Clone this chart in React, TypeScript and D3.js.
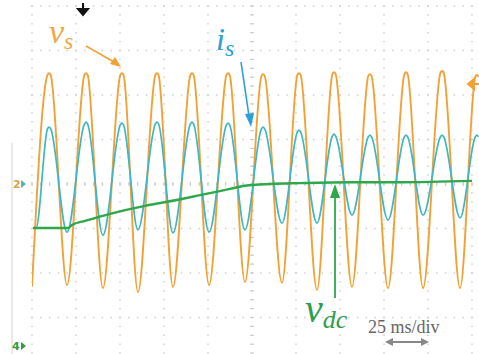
import React from "react";
import * as d3 from "d3";

// Scope settings: 10 x 8 divisions, 25 ms/div
const timeDivs = 10;
const voltDivs = 8;
const msPerDiv = 25;

// v_s: times of the peaks / troughs (ms) and their levels (div)
const vsPeakTimes = [9.7, 30.7, 51.1, 71.0, 90.9, 111.4, 131.3, 151.7, 171.6, 192.0, 212.5, 233.0, 252.8];
const vsPeaks = [2.49, 2.49, 2.49, 2.49, 2.49, 2.49, 2.47, 2.49, 2.51, 2.47, 2.51, 2.54, 2.45];
const vsTroughTimes = [0, 19.9, 40.3, 60.2, 80.1, 100.6, 121.0, 142.0, 161.9, 181.8, 202.3, 222.2, 243.2];
const vsTroughs = [-2.31, -2.27, -2.34, -2.43, -2.31, -2.27, -2.2, -2.22, -2.38, -2.31, -2.34, -2.34, -2.34];

// i_s: in phase with v_s, shrinking as the dc link charges
const isStartTime = 0.5;
const isPeaks = [1.28, 1.39, 1.37, 1.39, 1.39, 1.37, 1.28, 1.21, 1.12, 1.1, 1.1, 1.1, 1.1];
const isTroughTimes = [2.3, 19.9, 40.3, 60.2, 80.1, 100.6, 121.0, 142.0, 161.9, 181.8, 202.3, 222.2, 243.2];
const isTroughs = [-0.99, -1.08, -1.15, -1.03, -1.1, -1.08, -1.03, -0.88, -0.88, -0.7, -0.81, -0.7, -0.76];

// v_dc: slow rise then flat
const vdcTimes = [0.6, 20.5, 22.7, 30.1, 44.3, 64.2, 76.7, 95.5, 112.5, 121.0, 135.2, 152.3, 180.7, 209.1, 250];
const vdcLevels = [-0.99, -0.99, -0.92, -0.83, -0.67, -0.49, -0.4, -0.25, -0.11, -0.04, 0.0, 0.02, 0.04, 0.04, 0.07];

const colorVs = "#f2a235";
const colorIs = "#3db6c6";
const colorVdc = "#2fa84a";

type Pt = [number, number];

function wavePoints(peakT: number[], peakV: number[], troughT: number[], troughV: number[], start?: Pt): Pt[] {
  const pts: Pt[] = [];
  if (start) pts.push(start);
  troughT.forEach((t, i) => pts.push([t, troughV[i]]));
  peakT.forEach((t, i) => {
    // small flat top either side of each peak
    pts.push([t - 0.9, peakV[i] - 0.04]);
    pts.push([t, peakV[i]]);
    pts.push([t + 0.9, peakV[i] - 0.04]);
  });
  return pts.sort((a, b) => a[0] - b[0]);
}

export default function App() {
  const left = 32;
  const top = 6;
  const divW = 44;
  const divH = 44.5;

  const x = d3.scaleLinear().domain([0, timeDivs * msPerDiv]).range([left, left + timeDivs * divW]);
  const y = d3.scaleLinear().domain([-voltDivs / 2, voltDivs / 2]).range([top + voltDivs * divH, top]);

  const line = d3
    .line<Pt>()
    .x((d) => x(d[0]))
    .y((d) => y(d[1]))
    .curve(d3.curveMonotoneX);

  const vsPath = line(wavePoints(vsPeakTimes, vsPeaks, vsTroughTimes, vsTroughs));
  const isPath = line(
    wavePoints(vsPeakTimes, isPeaks, isTroughTimes, isTroughs, [isStartTime, isTroughs[0]])
  );
  const vdcPath = line(vdcTimes.map((t, i) => [t, vdcLevels[i]] as Pt));

  // dotted graticule, 5 dots per division
  const gridColor = "#cacaca";
  const dots: JSX.Element[] = [];
  d3.range(timeDivs + 1).forEach((i) => {
    const gx = left + i * divW;
    d3.range(voltDivs * 5 + 1).forEach((j) => {
      dots.push(<rect key={`v${i}-${j}`} x={gx - 0.7} y={top + (j * divH) / 5 - 0.7} width={1.4} height={1.4} fill={gridColor} />);
    });
  });
  d3.range(voltDivs + 1).forEach((j) => {
    const gy = top + j * divH;
    d3.range(timeDivs * 5 + 1).forEach((i) => {
      dots.push(<rect key={`h${j}-${i}`} x={left + (i * divW) / 5 - 0.7} y={gy - 0.7} width={1.4} height={1.4} fill={gridColor} />);
    });
  });
  // center cross ticks
  const cy = y(0);
  const cx = x((timeDivs * msPerDiv) / 2);
  const ticks: JSX.Element[] = [];
  d3.range(timeDivs * 5 + 1).forEach((i) => {
    const tx = left + (i * divW) / 5;
    ticks.push(<line key={`tx${i}`} x1={tx} x2={tx} y1={cy - 2} y2={cy + 2} stroke={gridColor} strokeWidth={1} />);
  });
  d3.range(voltDivs * 5 + 1).forEach((j) => {
    const ty = top + (j * divH) / 5;
    ticks.push(<line key={`ty${j}`} x1={cx - 2} x2={cx + 2} y1={ty} y2={ty} stroke={gridColor} strokeWidth={1} />);
  });

  const serif = "'Liberation Serif', 'DejaVu Serif', serif";

  return (
    <svg width={479} height={354} style={{ position: "absolute", left: 0, top: 0, background: "#fff" }}>
      <rect width={479} height={354} fill="#fff" />
      <line x1={12} x2={12} y1={143} y2={354} stroke="#e2e2e2" strokeWidth={1.5} />
      {dots}
      {ticks}

      <defs>
        <clipPath id="screen">
          <rect x={left} y={0} width={timeDivs * divW + 10} height={354} />
        </clipPath>
      </defs>
      <g clipPath="url(#screen)">
        <path d={vsPath ?? ""} fill="none" stroke={colorVs} strokeWidth={1.9} />
        <path d={isPath ?? ""} fill="none" stroke={colorIs} strokeWidth={1.7} />
        <path d={vdcPath ?? ""} fill="none" stroke={colorVdc} strokeWidth={2.4} />
      </g>

      {/* trigger marker */}
      <path d="M83,3 L83,9 M78,9 L88,9 L83,15 Z" stroke="#111" strokeWidth={2} fill="#111" />
      {/* channel markers */}
      <text x={13} y={188} fontFamily="'DejaVu Sans', sans-serif" fontSize={11} fontWeight="bold" fill="#d7a544">2</text>
      <path d="M21,180 L26,184 L21,188 Z" fill="#59b3b3" />
      <text x={12} y={350} fontFamily="'DejaVu Sans', sans-serif" fontSize={11} fontWeight="bold" fill="#3c9a3c">4</text>
      <path d="M21,342 L26,346 L21,350 Z" fill="#3c9a3c" />
      <path d="M479,84 L474,84 M474,79 L468,84 L474,89 Z" stroke={colorVs} strokeWidth={2} fill={colorVs} />

      {/* v_s label */}
      <text x={49} y={43} fontFamily={serif} fontStyle="italic" fill="#f0a845">
        <tspan fontSize={34}>v</tspan>
        <tspan fontSize={24} dy={6}>s</tspan>
      </text>
      <line x1={86} y1={46} x2={114} y2={62} stroke={colorVs} strokeWidth={1.6} />
      <path d="M121,67 L110,64 L115,57 Z" fill={colorVs} />

      {/* i_s label */}
      <text x={216} y={50} fontFamily={serif} fontStyle="italic" fill="#2a9fd8">
        <tspan fontSize={32}>i</tspan>
        <tspan fontSize={24} dy={6}>s</tspan>
      </text>
      <line x1={241} y1={62} x2={249} y2={116} stroke="#2a9fd8" strokeWidth={1.6} />
      <path d="M251,127 L245,114 L254,113 Z" fill="#2a9fd8" />

      {/* v_dc label */}
      <text x={305} y={322} fontFamily={serif} fontStyle="italic" fill="#2e9e4e">
        <tspan fontSize={40}>v</tspan>
        <tspan fontSize={26} dy={6}>dc</tspan>
      </text>
      <line x1={335} y1={298} x2={335} y2={196} stroke={colorVdc} strokeWidth={1.8} />
      <path d="M335,184 L330,198 L340,198 Z" fill={colorVdc} />

      {/* time base */}
      <text x={368} y={333} fontFamily={serif} fontSize={18} fill="#666">25 ms/div</text>
      <line x1={392} x2={422} y1={342} y2={342} stroke="#888" strokeWidth={2} />
      <path d="M385,342 L393,338 L393,346 Z M429,342 L421,338 L421,346 Z" fill="#888" />
    </svg>
  );
}
